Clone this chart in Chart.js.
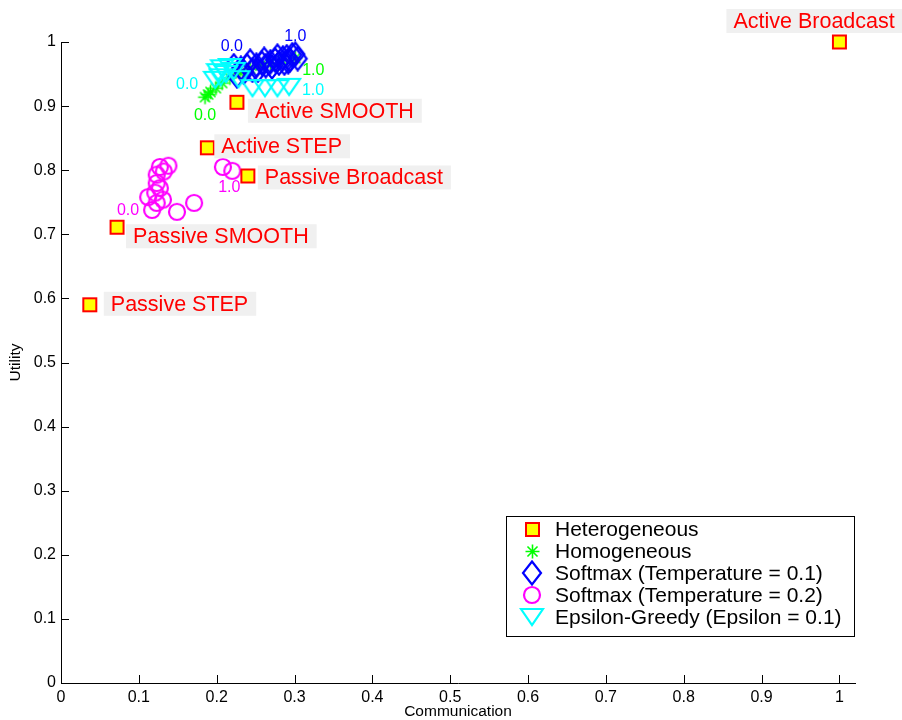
<!DOCTYPE html>
<html>
<head>
<meta charset="utf-8">
<script src="https://cdn.jsdelivr.net/npm/chart.js@4/dist/chart.umd.min.js"></script>
<style>
html, body { margin: 0; padding: 0; background: #fff; }
#wrap { width: 902px; height: 720px; }
</style>
</head>
<body>
<div id="wrap"><canvas id="chart" width="902" height="720"></canvas></div>
<script>
// axis ticks
var tickValues = [0, 0.1, 0.2, 0.3, 0.4, 0.5, 0.6, 0.7, 0.8, 0.9, 1];

// Heterogeneous configurations
var heteroNames = ['Active Broadcast', 'Active SMOOTH', 'Active STEP', 'Passive Broadcast', 'Passive SMOOTH', 'Passive STEP'];
var heteroComm = [1.0, 0.226, 0.188, 0.240, 0.072, 0.037];
var heteroUtil = [1.0, 0.906, 0.835, 0.791, 0.711, 0.590];

// Homogeneous (0.0 -> 1.0)
var homoComm = [0.185, 0.189, 0.192, 0.199, 0.207, 0.217, 0.230, 0.243, 0.256, 0.269, 0.284, 0.301];
var homoUtil = [0.914, 0.918, 0.922, 0.928, 0.936, 0.944, 0.952, 0.958, 0.963, 0.967, 0.972, 0.975];

// Softmax, temperature 0.1
var soft1Comm = [0.222, 0.226, 0.231, 0.235, 0.239, 0.243, 0.246, 0.251, 0.253, 0.258, 0.261, 0.263, 0.269, 0.271, 0.275, 0.278, 0.280, 0.285, 0.287, 0.290, 0.292, 0.294, 0.297, 0.304, 0.301];
var soft1Util = [0.963, 0.947, 0.959, 0.953, 0.963, 0.970, 0.956, 0.964, 0.956, 0.967, 0.973, 0.963, 0.969, 0.961, 0.972, 0.978, 0.967, 0.975, 0.967, 0.977, 0.969, 0.972, 0.980, 0.974, 0.981];

// Softmax, temperature 0.2
var soft2Comm = [0.117, 0.123, 0.112, 0.131, 0.121, 0.149, 0.123, 0.127, 0.171, 0.123, 0.127, 0.132, 0.138, 0.208, 0.220];
var soft2Util = [0.738, 0.749, 0.758, 0.754, 0.765, 0.735, 0.780, 0.772, 0.749, 0.793, 0.805, 0.798, 0.807, 0.805, 0.799];

// Epsilon-greedy, epsilon 0.1
var epsComm = [0.198, 0.202, 0.207, 0.212, 0.217, 0.205, 0.222, 0.228, 0.246, 0.262, 0.278, 0.293];
var epsUtil = [0.941, 0.953, 0.959, 0.950, 0.961, 0.945, 0.955, 0.942, 0.928, 0.928, 0.928, 0.930];

// text placement (pixels from the point)
var heteroLabelOffsets = [[-106, -21], [18, 8.5], [14, -1.5], [17, 1.5], [16, 9], [21, -1]];

function toPoints(xs, ys) {
	return xs.map(function (x, i) { return { x: x, y: ys[i] }; });
}

function makeMarker(w, h, draw) {
	var c = document.createElement('canvas');
	c.width = w;
	c.height = h;
	draw(c.getContext('2d'));
	return c;
}

var squareMarker = makeMarker(17, 17, function (g) {
	g.fillStyle = '#ffff00';
	g.fillRect(2, 2, 13, 13);
	g.strokeStyle = '#ff0000';
	g.lineWidth = 2;
	g.strokeRect(2, 2, 13, 13);
});

var starMarker = makeMarker(17, 17, function (g) {
	var c = 8.5, r = 7, d = r * 0.72;
	g.strokeStyle = '#00ff00';
	g.lineWidth = 1.6;
	g.beginPath();
	g.moveTo(c - r, c); g.lineTo(c + r, c);
	g.moveTo(c, c - r); g.lineTo(c, c + r);
	g.moveTo(c - d, c - d); g.lineTo(c + d, c + d);
	g.moveTo(c - d, c + d); g.lineTo(c + d, c - d);
	g.stroke();
});

var diamondMarker = makeMarker(22, 26, function (g) {
	g.strokeStyle = '#0000ff';
	g.lineWidth = 2.2;
	g.beginPath();
	g.moveTo(11, 1.5); g.lineTo(20, 13); g.lineTo(11, 24.5); g.lineTo(2, 13);
	g.closePath();
	g.stroke();
});

var circleMarker = makeMarker(20, 20, function (g) {
	g.strokeStyle = '#ff00ff';
	g.lineWidth = 2.2;
	g.beginPath();
	g.arc(10, 10, 8, 0, Math.PI * 2);
	g.stroke();
});

var triangleMarker = makeMarker(26, 22, function (g) {
	g.strokeStyle = '#00ffff';
	g.lineWidth = 2.2;
	g.beginPath();
	g.moveTo(2, 3); g.lineTo(24, 3); g.lineTo(13, 19);
	g.closePath();
	g.stroke();
});

var legendItems = [
	{ text: 'Heterogeneous', marker: squareMarker },
	{ text: 'Homogeneous', marker: starMarker },
	{ text: 'Softmax (Temperature = 0.1)', marker: diamondMarker },
	{ text: 'Softmax (Temperature = 0.2)', marker: circleMarker },
	{ text: 'Epsilon-Greedy (Epsilon = 0.1)', marker: triangleMarker }
];

// 0.0 / 1.0 markers at both ends of each sweep
var endLabels = [
	{ ds: 1, color: '#00ff00', first: [0, 18], last: [18, 13] },
	{ ds: 2, color: '#0000ff', first: [-2, -19], last: [0, -18] },
	{ ds: 3, color: '#ff00ff', first: [-24, 1], last: [-3, 17] },
	{ ds: 4, color: '#00ffff', first: [-28, 5], last: [24, 4] }
];

var annotations = {
	id: 'annotations',
	afterDatasetsDraw: function (chart) {
		var ctx = chart.ctx,
			xs = chart.scales.x,
			ys = chart.scales.y,
			area = chart.chartArea;

		ctx.save();

		// inward tick marks
		ctx.strokeStyle = '#000';
		ctx.lineWidth = 1;
		ctx.beginPath();
		tickValues.forEach(function (v) {
			var px = Math.round(xs.getPixelForValue(v)) + 0.5,
				py = Math.round(ys.getPixelForValue(v)) + 0.5;
			ctx.moveTo(px, area.bottom);
			ctx.lineTo(px, area.bottom - 8);
			ctx.moveTo(area.left, py);
			ctx.lineTo(area.left + 8, py);
		});
		ctx.stroke();

		// sweep end labels
		ctx.font = '16px "Liberation Sans", Arial, sans-serif';
		ctx.textAlign = 'center';
		ctx.textBaseline = 'middle';
		endLabels.forEach(function (e) {
			var pts = chart.getDatasetMeta(e.ds).data,
				p0 = pts[0],
				p1 = pts[pts.length - 1];
			ctx.fillStyle = e.color;
			ctx.fillText('0.0', p0.x + e.first[0], p0.y + e.first[1]);
			ctx.fillText('1.0', p1.x + e.last[0], p1.y + e.last[1]);
		});

		// configuration names
		ctx.font = '21.5px "Liberation Sans", Arial, sans-serif';
		ctx.textAlign = 'left';
		chart.getDatasetMeta(0).data.forEach(function (p, i) {
			var tx = p.x + heteroLabelOffsets[i][0],
				ty = p.y + heteroLabelOffsets[i][1],
				w = ctx.measureText(heteroNames[i]).width;
			ctx.fillStyle = '#f0f0f0';
			ctx.fillRect(tx - 7, ty - 12, w + 15, 24);
			ctx.fillStyle = '#ff0000';
			ctx.fillText(heteroNames[i], tx, ty + 1);
		});

		// legend box
		ctx.fillStyle = '#fff';
		ctx.fillRect(506, 516, 348, 120);
		ctx.strokeStyle = '#000';
		ctx.strokeRect(506.5, 516.5, 348, 120);
		ctx.font = '21px "Liberation Sans", Arial, sans-serif';
		legendItems.forEach(function (item, i) {
			var cy = 529 + i * 22;
			ctx.drawImage(item.marker, Math.round(532 - item.marker.width / 2), Math.round(cy - item.marker.height / 2));
			ctx.fillStyle = '#000';
			ctx.fillText(item.text, 555, cy + 1);
		});

		// axis titles
		ctx.font = '15.5px "Liberation Sans", Arial, sans-serif';
		ctx.textAlign = 'center';
		ctx.fillStyle = '#000';
		ctx.fillText('Communication', (area.left + area.right) / 2, 712);
		ctx.translate(16, (area.top + area.bottom) / 2);
		ctx.rotate(-Math.PI / 2);
		ctx.fillText('Utility', 0, 0);

		ctx.restore();
	}
};

function fmtTick(v) {
	return v === 0 ? '0' : (v === 1 ? '1' : v.toFixed(1));
}

function setTicks(scale) {
	scale.ticks = tickValues.map(function (v) { return { value: v }; });
}

var tickFont = { family: '"Liberation Sans", Arial, sans-serif', size: 16 };

new Chart(document.getElementById('chart'), {
	type: 'scatter',
	data: {
		datasets: [
			{ label: 'Heterogeneous', data: toPoints(heteroComm, heteroUtil), pointStyle: squareMarker, order: 0, clip: false },
			{ label: 'Homogeneous', data: toPoints(homoComm, homoUtil), pointStyle: starMarker, order: 4, clip: false },
			{ label: 'Softmax (Temperature = 0.1)', data: toPoints(soft1Comm, soft1Util), pointStyle: diamondMarker, order: 3, clip: false },
			{ label: 'Softmax (Temperature = 0.2)', data: toPoints(soft2Comm, soft2Util), pointStyle: circleMarker, order: 2, clip: false },
			{ label: 'Epsilon-Greedy (Epsilon = 0.1)', data: toPoints(epsComm, epsUtil), pointStyle: triangleMarker, order: 1, clip: false }
		]
	},
	options: {
		responsive: false,
		animation: false,
		events: [],
		layout: { padding: { top: 42, right: 47, left: 0, bottom: 0 } },
		plugins: {
			legend: { display: false },
			tooltip: { enabled: false }
		},
		scales: {
			x: {
				type: 'linear',
				min: 0,
				max: 1.02,
				grid: { display: false, drawTicks: false },
				border: { display: true, color: '#000', width: 1 },
				ticks: { color: '#000', font: tickFont, padding: 5, maxRotation: 0, callback: fmtTick },
				afterBuildTicks: setTicks,
				afterFit: function (scale) { scale.height = 37; }
			},
			y: {
				type: 'linear',
				min: 0,
				max: 1,
				grid: { display: false, drawTicks: false },
				border: { display: true, color: '#000', width: 1 },
				ticks: { color: '#000', font: tickFont, padding: 5, callback: fmtTick },
				afterBuildTicks: setTicks,
				afterFit: function (scale) { scale.width = 61; }
			}
		}
	},
	plugins: [annotations]
});
</script>
</body>
</html>
